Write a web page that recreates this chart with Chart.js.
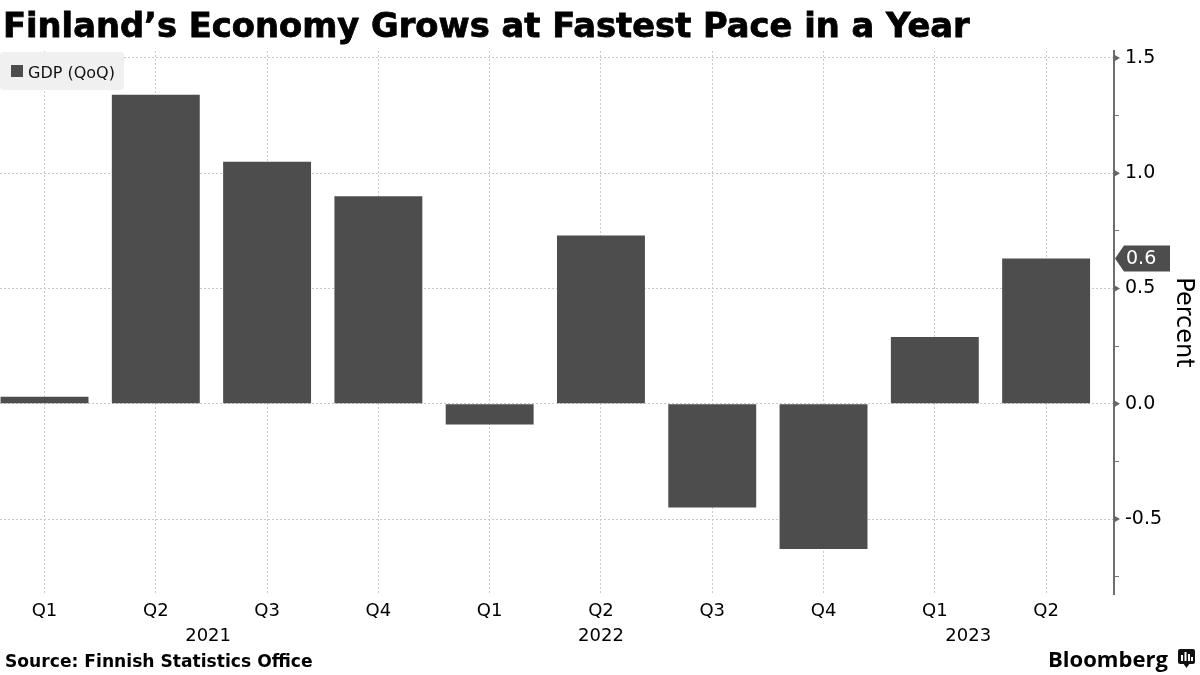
<!DOCTYPE html>
<html>
<head>
<meta charset="utf-8">
<script src="https://cdn.jsdelivr.net/npm/chart.js@4/dist/chart.umd.min.js"></script>
<style>
  html, body { margin: 0; padding: 0; background: #ffffff; }
  #wrap { position: relative; width: 1200px; height: 675px; overflow: hidden; }
  canvas { display: block; }
</style>
</head>
<body>
<div id="wrap"><canvas id="c" width="1200" height="675"></canvas></div>
<script>
// ---- Data ----
const quarterLabels = ['Q1', 'Q2', 'Q3', 'Q4', 'Q1', 'Q2', 'Q3', 'Q4', 'Q1', 'Q2'];
const gdpQoQ = [0.03, 1.34, 1.05, 0.90, -0.09, 0.73, -0.45, -0.63, 0.29, 0.63];
const yearLabels = ['2021', '2022', '2023'];
const yearPositions = [1.47, 5.0, 8.3];
const majorTicks = [-0.5, 0.0, 0.5, 1.0, 1.5];
const minorTicks = [-0.75, -0.25, 0.25, 0.75, 1.25];

const titleText = 'Finland\u2019s Economy Grows at Fastest Pace in a Year';
const sourceText = 'Source: Finnish Statistics Office';
const seriesName = 'GDP (QoQ)';
const axisTitle = 'Percent';

const BAR = '#4d4d4d';
const GRID = '#c9c9c9';
const FONT = '"DejaVu Sans", Verdana, sans-serif';

const isMajor = v => majorTicks.some(m => Math.abs(m - v) < 1e-6);

function fitSize(ctx, text, weight, family, target) {
  ctx.font = weight + ' 100px ' + family;
  const w = ctx.measureText(text).width;
  return 100 * target / w;
}

const decorPlugin = {
  id: 'decor',
  afterDraw(chart) {
    const ctx = chart.ctx;
    const y = chart.scales.y;
    const ca = chart.chartArea;
    ctx.save();

    // Title
    const ts = fitSize(ctx, titleText, 'bold', FONT, 967);
    ctx.font = 'bold ' + ts + 'px ' + FONT;
    ctx.fillStyle = '#000';
    ctx.textBaseline = 'alphabetic';
    ctx.textAlign = 'left';
    ctx.fillText(titleText, 3, 37);
    ctx.strokeStyle = '#000';
    ctx.lineWidth = 0.8;
    ctx.strokeText(titleText, 3, 37);

    // Legend
    ctx.fillStyle = '#f0f0f0';
    ctx.beginPath();
    ctx.roundRect(0, 52, 124, 38, 4);
    ctx.fill();
    ctx.fillStyle = BAR;
    ctx.fillRect(11, 65, 12, 12);
    ctx.fillStyle = '#111';
    ctx.font = '16px ' + FONT;
    ctx.fillText(seriesName, 28, 78);

    // Major tick triangles on the right axis
    ctx.fillStyle = '#666';
    majorTicks.forEach(v => {
      const py = y.getPixelForValue(v);
      ctx.beginPath();
      ctx.moveTo(ca.right, py - 3.5);
      ctx.lineTo(ca.right + 6, py);
      ctx.lineTo(ca.right, py + 3.5);
      ctx.closePath();
      ctx.fill();
    });

    // Last value label
    const last = gdpQoQ[gdpQoQ.length - 1];
    const ly = y.getPixelForValue(last);
    const x0 = ca.right + 1;
    ctx.fillStyle = BAR;
    ctx.beginPath();
    ctx.moveTo(x0, ly);
    ctx.lineTo(x0 + 9, ly - 13);
    ctx.lineTo(x0 + 55, ly - 13);
    ctx.lineTo(x0 + 55, ly + 13);
    ctx.lineTo(x0 + 9, ly + 13);
    ctx.closePath();
    ctx.fill();
    ctx.fillStyle = '#fff';
    ctx.font = '19px ' + FONT;
    ctx.textBaseline = 'middle';
    ctx.fillText(last.toFixed(1), x0 + 11, ly + 1);

    // Footer
    ctx.textBaseline = 'alphabetic';
    const ss = fitSize(ctx, sourceText, 'bold', FONT, 308);
    ctx.font = 'bold ' + ss + 'px ' + FONT;
    ctx.fillStyle = '#000';
    ctx.fillText(sourceText, 5, 667);

    const bs = fitSize(ctx, 'Bloomberg', 'bold', '"Open Sans", Roboto, sans-serif', 120);
    ctx.font = 'bold ' + bs + 'px "Open Sans", Roboto, sans-serif';
    ctx.fillText('Bloomberg', 1048, 667);

    // Bloomberg icon
    ctx.fillStyle = '#111';
    ctx.beginPath();
    ctx.roundRect(1178, 649, 17, 15, 2);
    ctx.fill();
    ctx.beginPath();
    ctx.moveTo(1183, 663);
    ctx.lineTo(1186.5, 668);
    ctx.lineTo(1190, 663);
    ctx.closePath();
    ctx.fill();
    ctx.fillStyle = '#fff';
    ctx.fillRect(1181, 655, 2, 6);
    ctx.fillRect(1184.5, 652, 2, 9);
    ctx.fillRect(1188, 654, 2, 7);
    ctx.fillRect(1191, 657, 2, 4);
    ctx.restore();
  }
};

new Chart(document.getElementById('c'), {
  type: 'bar',
  data: {
    datasets: [{
      label: seriesName,
      data: gdpQoQ.map((v, i) => ({ x: i, y: v })),
      backgroundColor: BAR,
      borderWidth: 0,
      categoryPercentage: 1.0,
      barPercentage: 0.79
    }]
  },
  options: {
    responsive: false,
    devicePixelRatio: 1,
    animation: false,
    layout: { padding: { top: 51, left: 0, right: 0, bottom: 29 } },
    plugins: { legend: { display: false }, tooltip: { enabled: false } },
    scales: {
      x: {
        type: 'linear',
        position: 'bottom',
        offset: false,
        min: -0.4,
        max: 9.61,
        afterBuildTicks: s => { s.ticks = quarterLabels.map((q, i) => ({ value: i })); },
        afterFit: s => { s.height = 26; },
        ticks: {
          autoSkip: false, maxRotation: 0, padding: 7,
          color: '#000', font: { family: FONT, size: 18 },
          callback: v => quarterLabels[v] ?? ''
        },
        grid: { color: GRID, lineWidth: 1, drawTicks: false, offset: false },
        border: { display: false, dash: [2, 2] }
      },
      x2: {
        type: 'linear',
        position: 'bottom',
        offset: false,
        min: -0.4,
        max: 9.61,
        afterBuildTicks: s => { s.ticks = yearPositions.map(v => ({ value: v })); },
        afterFit: s => { s.height = 26; },
        ticks: {
          autoSkip: false, maxRotation: 0, padding: 6,
          color: '#000', font: { family: FONT, size: 18 },
          callback: (v, i) => yearLabels[i]
        },
        grid: { display: false, drawTicks: false, offset: false },
        border: { display: false }
      },
      y: {
        type: 'linear',
        position: 'right',
        min: -0.825,
        max: 1.53,
        afterBuildTicks: s => {
          s.ticks = majorTicks.concat(minorTicks).sort((a, b) => a - b).map(v => ({ value: v }));
        },
        afterFit: s => { s.width = 86; },
        ticks: {
          padding: 6,
          color: '#000', font: { family: FONT, size: 19 },
          callback: v => isMajor(v) ? v.toFixed(1) : ''
        },
        grid: {
          color: c => (c.tick && isMajor(c.tick.value)) ? GRID : 'rgba(0,0,0,0)',
          tickColor: c => (c.tick && isMajor(c.tick.value)) ? 'rgba(0,0,0,0)' : '#777',
          tickLength: 5,
          tickWidth: 1,
          drawTicks: true
        },
        border: { display: true, color: '#6e6e6e', width: 2, dash: [2, 2] },
        title: {
          display: true, text: axisTitle, color: '#000',
          font: { family: FONT, size: 24 },
          padding: { top: 2, bottom: 0 }
        }
      }
    }
  },
  plugins: [decorPlugin]
});
</script>
</body>
</html>
